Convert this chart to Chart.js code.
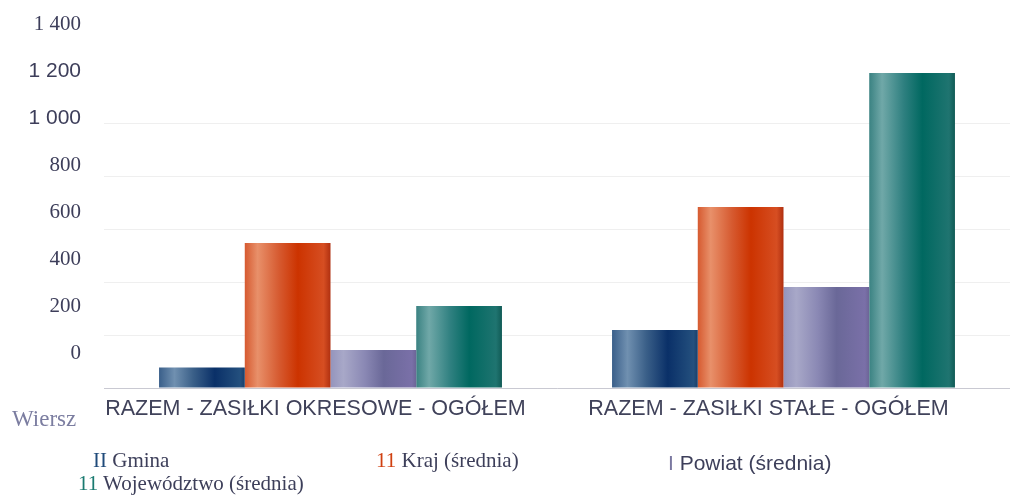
<!DOCTYPE html>
<html>
<head>
<meta charset="utf-8">
<script src="https://cdn.jsdelivr.net/npm/chart.js@4/dist/chart.umd.min.js"></script>
<style>
  body { margin: 0; background: #fff; }
  #wrap { position: relative; width: 1010px; height: 495px; }
  .txt { position: absolute; white-space: nowrap; color: #3d3f5a; line-height: 1; }
  .serif { font-family: "Liberation Serif", "DejaVu Serif", serif; font-size: 21px; }
  .sans { font-family: "Liberation Sans", Arial, sans-serif; font-size: 21px; }
</style>
</head>
<body>
<div id="wrap">
  <canvas id="chart" width="1010" height="495"></canvas>
  <div class="txt serif" style="left:12px; top:407px; font-size:23px; color:#7b7da0;">Wiersz</div>
  <div id="legend"></div>
</div>
<script>
// data
const categories = ["RAZEM - ZASIŁKI OKRESOWE - OGÓŁEM", "RAZEM - ZASIŁKI STAŁE - OGÓŁEM"];
const seriesNames = ["Gmina", "Kraj (średnia)", "Powiat (średnia)", "Województwo (średnia)"];
const gmina = [77, 219];
const kraj = [547, 683];
const powiat = [143, 381];
const wojewodztwo = [309, 1189];
const tickValues = [0, 200, 400, 600, 800, 1000, 1200, 1400];

// horizontal shading of each series' bars: [offset, colour]
const barShades = [
  [[0, "#3a5f8a"], [0.18, "#7090b0"], [0.4, "#3a5f88"], [0.65, "#0a3068"], [0.95, "#24507e"], [1, "#1a3f6a"]],
  [[0, "#d65a30"], [0.15, "#e8906a"], [0.4, "#d65a30"], [0.62, "#cc3300"], [0.92, "#d64e22"], [1, "#b03010"]],
  [[0, "#9494bc"], [0.15, "#a8a8c8"], [0.4, "#8a88b4"], [0.62, "#6a6898"], [0.95, "#7a70a8"], [1, "#6c6496"]],
  [[0, "#3a8282"], [0.15, "#70a8a8"], [0.4, "#2f8080"], [0.62, "#006860"], [0.93, "#1f7470"], [1, "#105a55"]]
];
const markColors = ["#1f4a7a", "#d04010", "#7a78a0", "#1a7a70"];
const markTexts = ["II", "11", "I", "11"];

const CAT_PCT = 0.757;
const SANS = "'Liberation Sans', Arial, sans-serif";
const SERIF = "'Liberation Serif', serif";

function barGradient(context) {
  const chart = context.chart;
  const xs = chart.scales.x;
  if (!chart.chartArea || !xs) return barShades[context.datasetIndex][3][1];
  const catW = (xs.right - xs.left) / categories.length;
  const groupW = catW * CAT_PCT;
  const barW = groupW / seriesNames.length;
  const left = xs.getPixelForValue(context.dataIndex) - groupW / 2 + context.datasetIndex * barW;
  const g = chart.ctx.createLinearGradient(left, 0, left + barW, 0);
  barShades[context.datasetIndex].forEach(s => g.addColorStop(s[0], s[1]));
  return g;
}

function spaced(v) {
  return String(v).replace(/\B(?=(\d{3})+(?!\d))/g, " ");
}

const seriesData = [gmina, kraj, powiat, wojewodztwo];

new Chart(document.getElementById("chart"), {
  type: "bar",
  data: {
    labels: categories,
    datasets: seriesNames.map((name, i) => ({
      label: name,
      data: seriesData[i],
      backgroundColor: barGradient,
      borderWidth: 0,
      categoryPercentage: CAT_PCT,
      barPercentage: 1.0
    }))
  },
  options: {
    responsive: false,
    animation: false,
    layout: { padding: { top: 17, right: 0, bottom: 67, left: 0 } },
    plugins: {
      legend: { display: false },
      title: { display: false },
      tooltip: { enabled: false }
    },
    scales: {
      x: {
        grid: { display: false },
        border: { color: "#c9c9d2" },
        ticks: {
          color: "#40425a",
          font: { family: SANS, size: 21.5 },
          padding: 0,
          labelOffset: -15,
          maxRotation: 0
        },
        afterFit: s => { s.height = 40; }
      },
      y: {
        min: 0,
        max: 1400,
        grid: {
          color: c => (c.tick && c.tick.value > 1000) ? "rgba(0,0,0,0)" : "#efefef",
          drawTicks: false
        },
        border: { display: false },
        ticks: { display: false, stepSize: 200 },
        afterFit: s => { s.width = 0; }
      },
      // the printed tick labels sit on their own spacing in the picture
      yl: {
        type: "linear",
        position: "left",
        min: -149,
        max: 1430,
        grid: { display: false },
        border: { display: false },
        afterBuildTicks: s => { s.ticks = tickValues.map(v => ({ value: v })); },
        ticks: {
          padding: 15,
          color: "#3d3e5a",
          callback: v => spaced(v),
          font: c => (c.tick && (c.tick.value === 1000 || c.tick.value === 1200))
            ? { family: SANS, size: 21 }
            : { family: SERIF, size: 21 }
        },
        afterFit: s => { s.width = 104; s.paddingTop = 0; s.paddingBottom = 0; }
      }
    }
  }
});

const legendSpots = [
  { left: 93, top: 450, cls: "serif" },
  { left: 376, top: 450, cls: "serif" },
  { left: 668, top: 452, cls: "sans" },
  { left: 78, top: 473, cls: "serif" }
];
const legendEl = document.getElementById("legend");
seriesNames.forEach((name, i) => {
  const d = document.createElement("div");
  d.className = "txt " + legendSpots[i].cls;
  d.style.left = legendSpots[i].left + "px";
  d.style.top = legendSpots[i].top + "px";
  const m = document.createElement("span");
  m.style.color = markColors[i];
  m.textContent = markTexts[i] + " ";
  d.appendChild(m);
  d.appendChild(document.createTextNode(name));
  legendEl.appendChild(d);
});
</script>
</body>
</html>
